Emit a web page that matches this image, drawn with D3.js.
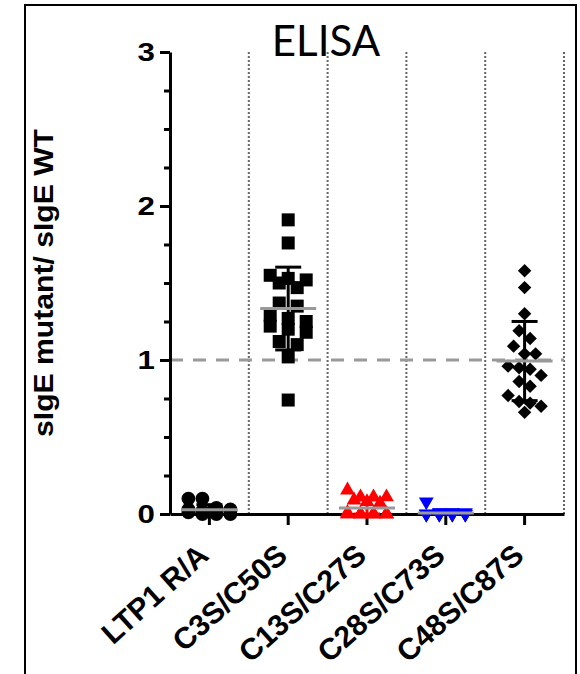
<!DOCTYPE html>
<html>
<head>
<meta charset="utf-8">
<script src="https://cdn.jsdelivr.net/npm/d3@7"></script>
<style>
  body { margin: 0; background: #fff; }
  text { font-family: 'Liberation Sans', Arial, sans-serif; }
</style>
</head>
<body>
<svg id="chart" width="580" height="674"></svg>
<script>
// Data
const CATEGORIES = ['LTP1 R/A', 'C3S/C50S', 'C13S/C27S', 'C28S/C73S', 'C48S/C87S']
const LTP1_VALUES = [0.10, 0.10, 0.04, 0.03, 0.03, 0.02, 0.02, 0.02, 0.01, 0.01, 0.01, 0.0, 0.0, 0.0]
const C3S_VALUES = [1.91, 1.76, 1.55, 1.53, 1.52, 1.50, 1.47, 1.37, 1.35, 1.29, 1.27, 1.25, 1.22, 1.20, 1.18, 1.12, 1.10, 1.02, 0.74]
const C13S_VALUES = [0.155, 0.11, 0.11, 0.11, 0.09, 0.08, 0.07, 0.01, 0.0, 0.0, 0.0, 0.0, 0.0, 0.0, 0.0, 0.0, 0.0, 0.0, 0.0]
const C28S_VALUES = [0.08, 0.01, 0.01, 0.01, 0.0, 0.0, 0.0, 0.0, 0.0, 0.0, 0.0, 0.0, 0.0, 0.0, 0.0, 0.0]
const C48S_VALUES = [1.58, 1.47, 1.30, 1.19, 1.14, 1.09, 1.04, 1.04, 0.96, 0.95, 0.94, 0.90, 0.86, 0.83, 0.77, 0.73, 0.72, 0.70, 0.66]
const SERIES_VALUES = [LTP1_VALUES, C3S_VALUES, C13S_VALUES, C28S_VALUES, C48S_VALUES]
const Y_TICKS = [0, 1, 2, 3]
const REFERENCE_LINE = 1

// look of each group: color, marker, spacing of the scatter
const STYLES = [
  { color: '#000', symbol: d3.symbolCircle, size: 150, rotate: 0, step: 14, perRow: 4 },
  { color: '#000', symbol: d3.symbolSquare, size: 169, rotate: 0, step: 18, perRow: 3 },
  { color: '#f00', symbol: d3.symbolTriangle, size: 95, rotate: 0, step: 13, perRow: 4 },
  { color: '#00f', symbol: d3.symbolTriangle, size: 95, rotate: 180, step: 13, perRow: 4 },
  { color: '#000', symbol: d3.symbolSquare, size: 90, rotate: 45, step: 11, perRow: 4 }
]

let chart = d3.select('#chart')

let x = d3.scaleBand().domain(CATEGORIES).range([170, 564])
let y = d3.scaleLinear().domain([0, 3]).range([514, 52])

// outer frame
chart.append('rect')
  .attr('x', 25).attr('y', 5)
  .attr('width', 551).attr('height', 720)
  .attr('fill', 'none').attr('stroke', '#000').attr('stroke-width', 2)

// title
chart.append('text')
  .attr('x', 326).attr('y', 56)
  .attr('text-anchor', 'middle')
  .style('font-family', 'Lato, sans-serif')
  .style('font-size', '42px')
  .text('ELISA')

// dotted separators between groups
chart.selectAll('line.sep')
  .data(CATEGORIES)
  .enter()
  .append('line')
  .attr('class', 'sep')
  .attr('x1', c => x(c) + x.bandwidth())
  .attr('x2', c => x(c) + x.bandwidth())
  .attr('y1', y(3)).attr('y2', y(0))
  .attr('stroke', '#666').attr('stroke-width', 2).attr('stroke-dasharray', '2,2')

// dashed line at 1
chart.append('line')
  .attr('x1', x.range()[0]).attr('x2', x.range()[1])
  .attr('y1', y(REFERENCE_LINE)).attr('y2', y(REFERENCE_LINE))
  .attr('stroke', '#999').attr('stroke-width', 3).attr('stroke-dasharray', '13,10')

// minor y ticks
let minorAxis = chart.append('g')
  .attr('transform', 'translate(170,0)')
  .call(d3.axisLeft(y).tickValues(d3.range(0, 3.01, 0.25)).tickSize(6).tickSizeOuter(0).tickFormat(''))
minorAxis.select('.domain').remove()
minorAxis.selectAll('line').attr('stroke-width', 3)

// y axis
let yAxis = chart.append('g')
  .attr('transform', 'translate(170,0)')
  .call(d3.axisLeft(y).tickValues(Y_TICKS).tickSize(10).tickSizeOuter(0).tickFormat(d3.format('d')))
yAxis.select('.domain').attr('stroke-width', 3)
yAxis.selectAll('line').attr('stroke-width', 3)
yAxis.selectAll('text')
  .attr('x', 0)
  .attr('transform', 'translate(-15,0) scale(1.25,1)')
  .style('font-family', "'Liberation Sans', Arial, sans-serif")
  .style('font-size', '25px')
  .style('font-weight', 'bold')

// x axis
let xAxis = chart.append('g')
  .attr('transform', `translate(0,${y(0)})`)
  .call(d3.axisBottom(x).tickSize(11).tickSizeOuter(0))
xAxis.select('.domain').attr('stroke-width', 3)
xAxis.selectAll('line').attr('stroke-width', 3)
xAxis.selectAll('text')
  .attr('x', 0).attr('y', 0).attr('dy', '0.35em')
  .attr('text-anchor', 'end')
  .attr('transform', 'translate(-6,36) rotate(-42)')
  .style('font-family', "'Liberation Sans', Arial, sans-serif")
  .style('font-size', '30px')
  .style('font-weight', 'bold')

// y axis title
chart.append('text')
  .attr('transform', 'translate(53,283) rotate(-90)')
  .attr('text-anchor', 'middle')
  .attr('textLength', 308)
  .attr('lengthAdjust', 'spacingAndGlyphs')
  .style('font-size', '27px')
  .style('font-weight', 'bold')
  .text('sIgE mutant/ sIgE WT')

// spread points of one group in short rows, centred on the group
let scatterLayout = (values, style) => {
  let sorted = values.slice().sort((a, b) => b - a)
  let rows = []
  sorted.forEach(v => {
    let row = rows[rows.length - 1]
    if (row && row.length < style.perRow && y(v) - y(row[0]) < 12) row.push(v)
    else rows.push([v])
  })
  let out = []
  rows.forEach(row => {
    row.forEach((v, i) => out.push({ value: v, dx: (i - (row.length - 1) / 2) * style.step }))
  })
  return out
}

CATEGORIES.forEach((cat, ci) => {
  let style = STYLES[ci]
  let values = SERIES_VALUES[ci]
  let cx = x(cat) + x.bandwidth() / 2
  let group = chart.append('g')

  group.selectAll('path')
    .data(scatterLayout(values, style))
    .enter()
    .append('path')
    .attr('d', d3.symbol().type(style.symbol).size(style.size))
    .attr('transform', p => `translate(${cx + p.dx},${y(p.value)}) rotate(${style.rotate})`)
    .attr('fill', style.color)

  // mean and SD
  let mean = d3.mean(values)
  let sd = d3.deviation(values)
  group.append('line')
    .attr('x1', cx).attr('x2', cx)
    .attr('y1', y(mean + sd)).attr('y2', y(Math.max(0, mean - sd)))
    .attr('stroke', style.color).attr('stroke-width', 3)
  ;[mean + sd, Math.max(0, mean - sd)].forEach(v => {
    group.append('line')
      .attr('x1', cx - 13).attr('x2', cx + 13)
      .attr('y1', y(v)).attr('y2', y(v))
      .attr('stroke', style.color).attr('stroke-width', 3)
  })
  group.append('line')
    .attr('x1', cx - 28).attr('x2', cx + 28)
    .attr('y1', y(mean)).attr('y2', y(mean))
    .attr('stroke', '#999').attr('stroke-width', 3)
})
</script>
</body>
</html>
